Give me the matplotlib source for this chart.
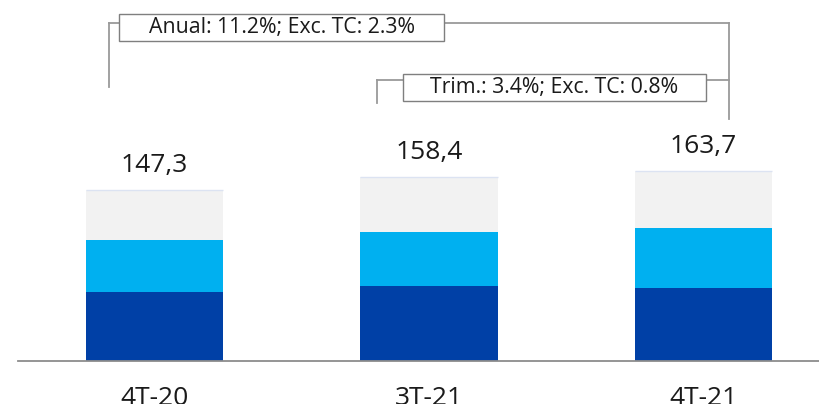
import matplotlib.pyplot as plt
from matplotlib.patches import Rectangle
import numpy as np

# Data
categories = ["4T-20", "3T-21", "4T-21"]
dark_vals = [59.4, 64.5, 62.8]
light_vals = [44.8, 46.5, 51.2]
gray_vals = [43.1, 47.4, 49.7]
totals = [147.3, 158.4, 163.7]
total_labels = ["147,3", "158,4", "163,7"]
annual_text = "Anual: 11.2%; Exc. TC: 2.3%"
quarter_text = "Trim.: 3.4%; Exc. TC: 0.8%"

plt.rcParams["font.family"] = ["Open Sans", "DejaVu Sans"]

fig = plt.figure(figsize=(8.2, 4.04), dpi=100)
ax = fig.add_axes([0, 0, 1, 1])
ax.set_xlim(-0.5628, 2.4244)
ax.set_ylim(-37.0, 310.4)
ax.axis("off")

x = np.arange(len(categories))
w = 0.5
dark = np.array(dark_vals)
light = np.array(light_vals)
gray = np.array(gray_vals)

ax.bar(x, dark, w, color="#0040A6", zorder=2)
ax.bar(x, light, w, bottom=dark, color="#00B0F0", zorder=2)
ax.bar(x, gray, w, bottom=dark + light, color="#F2F2F2", zorder=2)
ax.hlines(dark + light + gray, x - w / 2, x + w / 2, color="#DCE3F2", lw=1, zorder=3)

# baseline
ax.axhline(0, xmin=18 / 820, xmax=1, color="#8C8C8C", lw=1.3, zorder=3)

for xi, t, lab in zip(x, totals, total_labels):
    ax.text(xi, t + 15.5, lab, ha="center", va="baseline", fontsize=19, color="#1A1A1A")

for xi, cat in zip(x, categories):
    ax.text(xi, -38.2, cat, ha="center", va="baseline", fontsize=19,
            color="#1A1A1A", clip_on=False)

line_kw = dict(color="#9A9A9A", lw=1.3, zorder=1)


def bracket(x_left, y_left_bottom, x_right, y_right_bottom, y_line,
            box_x0, box_x1, box_y0, box_y1, text):
    ax.plot([x_left, x_left], [y_left_bottom, y_line], **line_kw)
    ax.plot([x_left, box_x0], [y_line, y_line], **line_kw)
    ax.plot([box_x1, x_right], [y_line, y_line], **line_kw)
    if y_right_bottom is not None:
        ax.plot([x_right, x_right], [y_right_bottom, y_line], **line_kw)
    ax.add_patch(Rectangle((box_x0, box_y0), box_x1 - box_x0, box_y1 - box_y0,
                           facecolor="white", edgecolor="#7F7F7F", lw=1.0, zorder=4))
    ax.text((box_x0 + box_x1) / 2, (box_y0 + box_y1) / 2, text, ha="center",
            va="center", fontsize=15.3, color="#1A1A1A", zorder=5)


# annual: 4T-20 -> 4T-21
bracket(x[0] - 0.166, 235.6, x[2] + 0.093, 208.0, 290.6,
        x[0] - 0.129, x[0] + 1.055, 275.2, 298.4, annual_text)
# quarterly: 3T-21 -> 4T-21
bracket(x[1] - 0.19, 221.8, x[2] + 0.093, None, 241.6,
        x[1] - 0.095, x[1] + 1.009, 223.6, 246.8, quarter_text)

fig.savefig("out.png", dpi=100)
